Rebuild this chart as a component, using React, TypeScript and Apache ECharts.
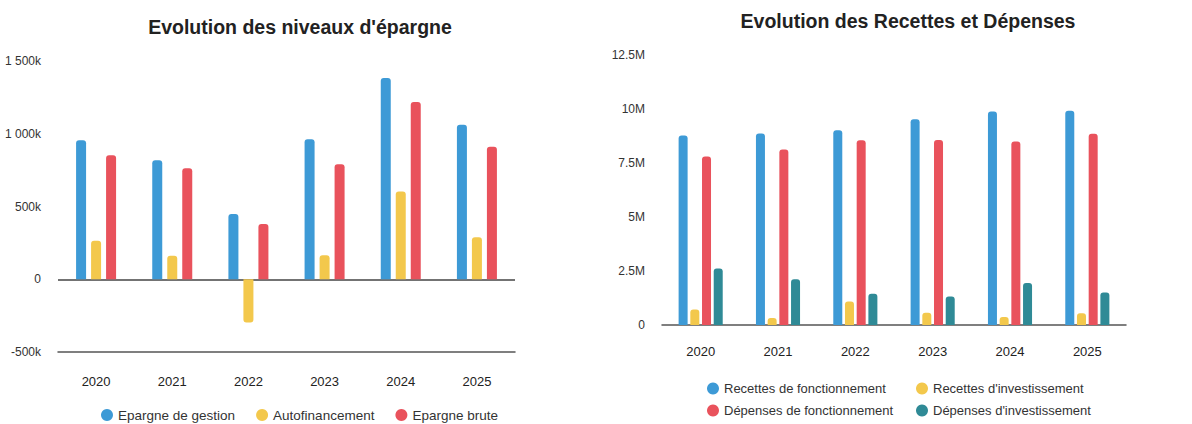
import React, { useEffect, useRef } from "react";
import * as echarts from "echarts";

const years = ["2020", "2021", "2022", "2023", "2024", "2025"];

// Left chart (values in k€)
const epargneGestion = [955, 818, 449, 962, 1384, 1062];
const autofinancement = [264, 161, -298, 165, 603, 288];
const epargneBrute = [853, 763, 380, 791, 1219, 911];
const leftTicks = { min: -500, max: 1500, interval: 500 };

// Right chart (values in M€)
const recettesFonct = [8.77, 8.86, 9.02, 9.52, 9.88, 9.92];
const recettesInvest = [0.72, 0.32, 1.09, 0.57, 0.37, 0.54];
const depensesFonct = [7.8, 8.12, 8.55, 8.57, 8.49, 8.85];
const depensesInvest = [2.62, 2.12, 1.45, 1.32, 1.95, 1.51];
const rightTicks = { min: 0, max: 12.5, interval: 2.5 };

const BLUE = "#3d9ad6";
const YELLOW = "#f3c84c";
const RED = "#e9525c";
const TEAL = "#2f8a96";
const FONT = "'Liberation Sans', Arial, sans-serif";

function fmtK(v: number) {
  if (v === 0) return "0";
  const abs = Math.abs(v);
  const s = abs >= 1000 ? Math.floor(abs / 1000) + " " + String(abs % 1000).padStart(3, "0") : String(abs);
  return (v < 0 ? "-" : "") + s + "k";
}

function fmtM(v: number) {
  if (v === 0) return "0";
  return v + "M";
}

function barData(arr: number[]) {
  return arr.map((v) =>
    v < 0 ? { value: v, itemStyle: { borderRadius: [0, 0, 3, 3] } } : v
  );
}

export default function App() {
  const ref = useRef<HTMLDivElement>(null);
  useEffect(() => {
    if (!ref.current) return;
    const chart = echarts.init(ref.current, undefined, { renderer: "svg" });
    const axisLabel = { color: "#333", fontSize: 12, fontFamily: FONT };
    const xLabel = { color: "#222", fontSize: 13, fontFamily: FONT };
    const leftLegendText = { color: "#333", fontSize: 13.5, fontFamily: FONT };
    const rightLegendText = { color: "#333", fontSize: 13, fontFamily: FONT };
    const oneLegend = (name: string, left: number, top: number) => ({
      data: [name],
      left,
      top,
      icon: "circle",
      itemWidth: 12,
      itemHeight: 12,
      textStyle: rightLegendText,
    });
    chart.setOption({
      animation: false,
      backgroundColor: "#fff",
      title: [
        {
          text: "Evolution des niveaux d'épargne",
          left: 295,
          top: 12,
          textAlign: "center",
          textStyle: { fontSize: 19.5, fontWeight: "bold", color: "#222", fontFamily: FONT },
        },
        {
          text: "Evolution des Recettes et Dépenses",
          left: 903,
          top: 6,
          textAlign: "center",
          textStyle: { fontSize: 19.5, fontWeight: "bold", color: "#222", fontFamily: FONT },
        },
      ],
      legend: [
        {
          data: ["Epargne de gestion", "Autofinancement", "Epargne brute"],
          left: 96,
          top: 403,
          icon: "circle",
          itemWidth: 12,
          itemHeight: 12,
          itemGap: 21,
          textStyle: leftLegendText,
        },
        oneLegend("Recettes de fonctionnement", 702, 377),
        oneLegend("Dépenses de fonctionnement", 702, 399),
        oneLegend("Recettes d'investissement", 911, 377),
        oneLegend("Dépenses d'investissement", 911, 399),
      ],
      grid: [
        { left: 58, right: 677, top: 61, bottom: 72 },
        { left: 662, right: 66, top: 55, bottom: 99 },
      ],
      xAxis: [
        {
          type: "category",
          gridIndex: 0,
          data: years,
          axisLine: { onZero: false, lineStyle: { color: "#555", width: 1.5 } },
          axisTick: { alignWithLabel: true, length: 8, lineStyle: { color: "#555" } },
          axisLabel: { ...xLabel, margin: 23 },
        },
        {
          type: "category",
          gridIndex: 1,
          data: years,
          axisLine: { lineStyle: { color: "#555", width: 1.5 } },
          axisTick: { alignWithLabel: true, length: 6, lineStyle: { color: "#999" } },
          axisLabel: { ...xLabel, margin: 20 },
        },
      ],
      yAxis: [
        {
          type: "value",
          gridIndex: 0,
          ...leftTicks,
          axisLabel: { ...axisLabel, margin: 17, formatter: fmtK },
          splitLine: {
            show: true,
            lineStyle: { color: ["transparent", "#444", "transparent", "transparent", "transparent"], width: 1.5 },
          },
          axisLine: { show: false },
          axisTick: { show: false },
        },
        {
          type: "value",
          gridIndex: 1,
          ...rightTicks,
          axisLabel: { ...axisLabel, margin: 17, formatter: fmtM },
          splitLine: { show: false },
          axisLine: { show: false },
          axisTick: { show: false },
        },
      ],
      series: [
        {
          name: "Epargne de gestion",
          type: "bar",
          xAxisIndex: 0,
          yAxisIndex: 0,
          data: barData(epargneGestion),
          barWidth: 10,
          barGap: "50%",
          itemStyle: { color: BLUE, borderRadius: [3, 3, 0, 0] },
        },
        {
          name: "Autofinancement",
          type: "bar",
          xAxisIndex: 0,
          yAxisIndex: 0,
          data: barData(autofinancement),
          barWidth: 10,
          barGap: "50%",
          itemStyle: { color: YELLOW, borderRadius: [3, 3, 0, 0] },
        },
        {
          name: "Epargne brute",
          type: "bar",
          xAxisIndex: 0,
          yAxisIndex: 0,
          data: barData(epargneBrute),
          barWidth: 10,
          barGap: "50%",
          itemStyle: { color: RED, borderRadius: [3, 3, 0, 0] },
        },
        {
          name: "Recettes de fonctionnement",
          type: "bar",
          xAxisIndex: 1,
          yAxisIndex: 1,
          data: recettesFonct,
          barWidth: 9,
          barGap: "30%",
          itemStyle: { color: BLUE, borderRadius: [3, 3, 0, 0] },
        },
        {
          name: "Recettes d'investissement",
          type: "bar",
          xAxisIndex: 1,
          yAxisIndex: 1,
          data: recettesInvest,
          barWidth: 9,
          barGap: "30%",
          itemStyle: { color: YELLOW, borderRadius: [3, 3, 0, 0] },
        },
        {
          name: "Dépenses de fonctionnement",
          type: "bar",
          xAxisIndex: 1,
          yAxisIndex: 1,
          data: depensesFonct,
          barWidth: 9,
          barGap: "30%",
          itemStyle: { color: RED, borderRadius: [3, 3, 0, 0] },
        },
        {
          name: "Dépenses d'investissement",
          type: "bar",
          xAxisIndex: 1,
          yAxisIndex: 1,
          data: depensesInvest,
          barWidth: 9,
          barGap: "30%",
          itemStyle: { color: TEAL, borderRadius: [3, 3, 0, 0] },
        },
      ],
    });
    return () => chart.dispose();
  }, []);
  return (
    <div
      ref={ref}
      style={{ position: "absolute", left: 0, top: 0, width: 1192, height: 424 }}
    />
  );
}
